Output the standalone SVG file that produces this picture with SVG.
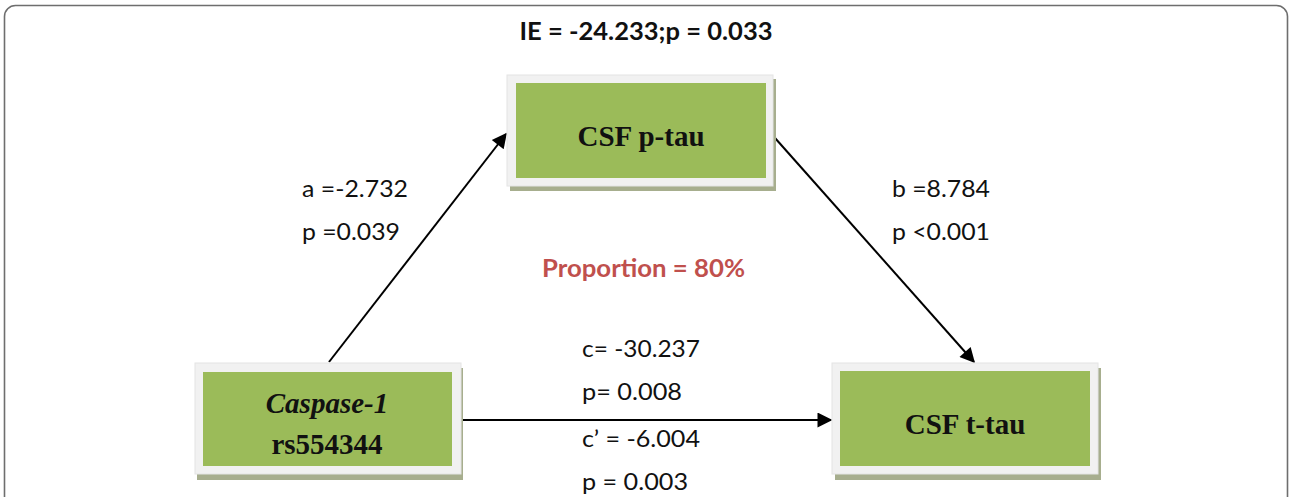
<svg xmlns="http://www.w3.org/2000/svg" width="1290" height="497" viewBox="0 0 1290 497">
  <defs>
    <marker id="arrow" viewBox="0 0 10 10" refX="9" refY="5" markerWidth="9" markerHeight="7.5" markerUnits="strokeWidth" orient="auto">
      <path d="M0,0 L10,5 L0,10 Z" fill="#000"/>
    </marker>
    <style>
      .frame { fill: #f1f1f1; stroke: #e4e4e4; stroke-width: 1; }
      .shadow { fill: #a7ae8e; }
      .fill { fill: #9bbb59; }
      .node-text { font-family: "Liberation Serif", "Times New Roman", serif; font-weight: bold; font-size: 29px; fill: #111; text-anchor: middle; }
      .label { font-family: Lato, "Open Sans", sans-serif; font-size: 24px; fill: #111; }
      .edge { stroke: #000; stroke-width: 2; fill: none; marker-end: url(#arrow); }
    </style>
  </defs>

  <!-- outer panel -->
  <rect x="4.5" y="5.5" width="1283" height="540" rx="11" fill="#fff" stroke="#6e6e6e" stroke-width="1.6"/>

  <!-- headline result -->
  <text x="646" y="40" class="label" font-weight="bold" text-anchor="middle" textLength="253" lengthAdjust="spacingAndGlyphs">IE = -24.233;p = 0.033</text>

  <!-- connectors -->
  <g id="connectors">
    <line class="edge" x1="329" y1="362" x2="506" y2="134"/>
    <line class="edge" x1="775" y1="138" x2="974" y2="362"/>
    <line class="edge" x1="462" y1="420" x2="831" y2="420"/>
  </g>

  <!-- mediator -->
  <g id="node-ptau">
    <rect class="shadow" x="510" y="79" width="266" height="112"/>
    <rect class="frame" x="507" y="75" width="266" height="111"/>
    <rect class="fill" x="516" y="83" width="250" height="95"/>
    <text x="641" y="146" class="node-text">CSF p-tau</text>
  </g>

  <!-- exposure -->
  <g id="node-caspase">
    <rect class="shadow" x="197" y="368" width="266" height="112"/>
    <rect class="frame" x="195" y="363" width="266" height="111"/>
    <rect class="fill" x="203" y="372" width="249" height="94"/>
    <text x="327" y="413" class="node-text" font-style="italic">Caspase-1</text>
    <text x="327" y="454" class="node-text">rs554344</text>
  </g>

  <!-- outcome -->
  <g id="node-ttau">
    <rect class="shadow" x="835" y="368" width="266" height="112"/>
    <rect class="frame" x="832" y="363" width="266" height="111"/>
    <rect class="fill" x="840" y="371" width="250" height="95"/>
    <text x="965" y="434" class="node-text">CSF t-tau</text>
  </g>

  <!-- path coefficients -->
  <g id="labels">
    <text x="302" y="197" class="label" textLength="106" lengthAdjust="spacingAndGlyphs">a =-2.732</text>
    <text x="302" y="240" class="label" textLength="98" lengthAdjust="spacingAndGlyphs">p =0.039</text>
    <text x="892" y="197" class="label" textLength="98" lengthAdjust="spacingAndGlyphs">b =8.784</text>
    <text x="892" y="240" class="label" textLength="98" lengthAdjust="spacingAndGlyphs">p &lt;0.001</text>
    <text x="542" y="277" class="label" font-weight="bold" style="fill:#c0504d" textLength="203" lengthAdjust="spacingAndGlyphs">Proportion = 80%</text>
    <text x="582" y="357" class="label" textLength="118" lengthAdjust="spacingAndGlyphs">c= -30.237</text>
    <text x="582" y="400" class="label" textLength="100" lengthAdjust="spacingAndGlyphs">p= 0.008</text>
    <text x="582" y="447" class="label" textLength="118" lengthAdjust="spacingAndGlyphs">c’ = -6.004</text>
    <text x="582" y="490" class="label" textLength="106" lengthAdjust="spacingAndGlyphs">p = 0.003</text>
  </g>
</svg>
